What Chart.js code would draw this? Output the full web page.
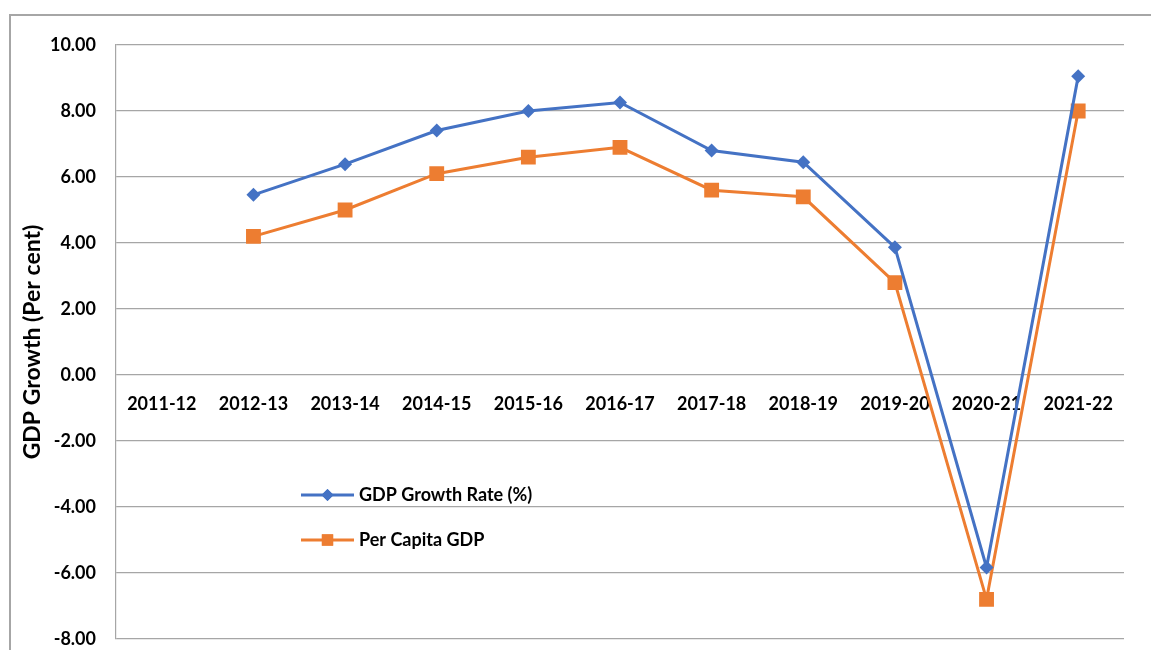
<!DOCTYPE html>
<html>
<head>
<meta charset="utf-8">
<script src="https://cdn.jsdelivr.net/npm/chart.js@4/dist/chart.umd.min.js"></script>
<style>
  html, body { margin: 0; padding: 0; background: #fff; }
  #wrap { width: 1151px; height: 650px; position: relative; }
</style>
</head>
<body>
<div id="wrap"><canvas id="c" width="1151" height="650"></canvas></div>
<script>
const categories = ["2011-12","2012-13","2013-14","2014-15","2015-16","2016-17","2017-18","2018-19","2019-20","2020-21","2021-22"];
const gdpGrowth = [null, 5.46, 6.39, 7.41, 8.00, 8.26, 6.80, 6.45, 3.87, -5.83, 9.05];
const perCapita = [null, 4.20, 5.00, 6.10, 6.60, 6.90, 5.60, 5.40, 2.80, -6.80, 8.00];
const seriesNames = ["GDP Growth Rate (%)", "Per Capita GDP"];
const yTitle = "GDP Growth (Per cent)";

const FONT = "Lato, 'Open Sans', sans-serif";

function zeroPad(scale) {
  scale.paddingTop = 0; scale.paddingBottom = 0;
  scale.paddingLeft = 0; scale.paddingRight = 0;
}

const framePlugin = {
  id: 'frame',
  beforeDraw(chart) {
    const ctx = chart.ctx;
    ctx.save();
    ctx.strokeStyle = '#a6a6a6';
    ctx.lineWidth = 2;
    ctx.beginPath();
    ctx.moveTo(10, chart.height);
    ctx.lineTo(10, 15);
    ctx.lineTo(chart.width, 15);
    ctx.stroke();
    ctx.restore();
  }
};

const legendPlugin = {
  id: 'innerLegend',
  afterDraw(chart) {
    const ctx = chart.ctx;
    const rows = [495, 540];
    ctx.save();
    chart.data.datasets.forEach((ds, i) => {
      const y = rows[i];
      ctx.strokeStyle = ds.borderColor;
      ctx.lineWidth = 3;
      ctx.beginPath();
      ctx.moveTo(301, y);
      ctx.lineTo(354, y);
      ctx.stroke();
      ctx.fillStyle = ds.borderColor;
      Chart.helpers.drawPoint(ctx, {pointStyle: ds.pointStyle, radius: i === 0 ? 6 : 8, borderWidth: 0}, 327.5, y);
      ctx.fill();
      ctx.fillStyle = '#000';
      ctx.font = "700 18px " + FONT;
      ctx.textBaseline = 'middle';
      ctx.textAlign = 'left';
      ctx.fillText(ds.label, 359, y);
    });
    ctx.restore();
  }
};

new Chart(document.getElementById('c'), {
  type: 'line',
  data: {
    labels: categories,
    datasets: [
      {
        label: seriesNames[0],
        data: gdpGrowth,
        borderColor: '#4472C4',
        backgroundColor: '#4472C4',
        borderWidth: 3,
        pointStyle: 'rectRot',
        pointRadius: 7,
        pointBorderWidth: 0,
        tension: 0
      },
      {
        label: seriesNames[1],
        data: perCapita,
        borderColor: '#ED7D31',
        backgroundColor: '#ED7D31',
        borderWidth: 3,
        pointStyle: 'rect',
        pointRadius: 10.5,
        pointBorderWidth: 0,
        tension: 0
      }
    ]
  },
  options: {
    responsive: false,
    animation: false,
    layout: { autoPadding: false, padding: { left: 0, top: 45, right: 27, bottom: 11 } },
    plugins: {
      legend: { display: false },
      tooltip: { enabled: false }
    },
    scales: {
      x: {
        type: 'category',
        position: { y: 0 },
        offset: true,
        afterFit(scale) { scale.height = 0; zeroPad(scale); },
        grid: { display: false, drawTicks: false },
        border: { display: false },
        ticks: {
          color: '#000',
          padding: 18,
          maxRotation: 0,
          autoSkip: false,
          font: { family: FONT, size: 18, weight: 'bold' }
        }
      },
      y: {
        min: -8,
        max: 10,
        afterFit(scale) { scale.width = 116; zeroPad(scale); },
        grid: { color: '#a6a6a6', lineWidth: 1.2, drawTicks: false },
        border: { display: true, color: '#a6a6a6', width: 1.2 },
        ticks: {
          stepSize: 2,
          color: '#000',
          padding: 20,
          font: { family: FONT, size: 18, weight: 'bold' },
          callback: (v) => Number(v).toFixed(2)
        },
        title: {
          display: true,
          text: yTitle,
          color: '#000',
          padding: { top: 19, bottom: 0 },
          font: { family: FONT, size: 23, weight: 'bold' }
        }
      }
    }
  },
  plugins: [framePlugin, legendPlugin]
});
</script>
</body>
</html>
